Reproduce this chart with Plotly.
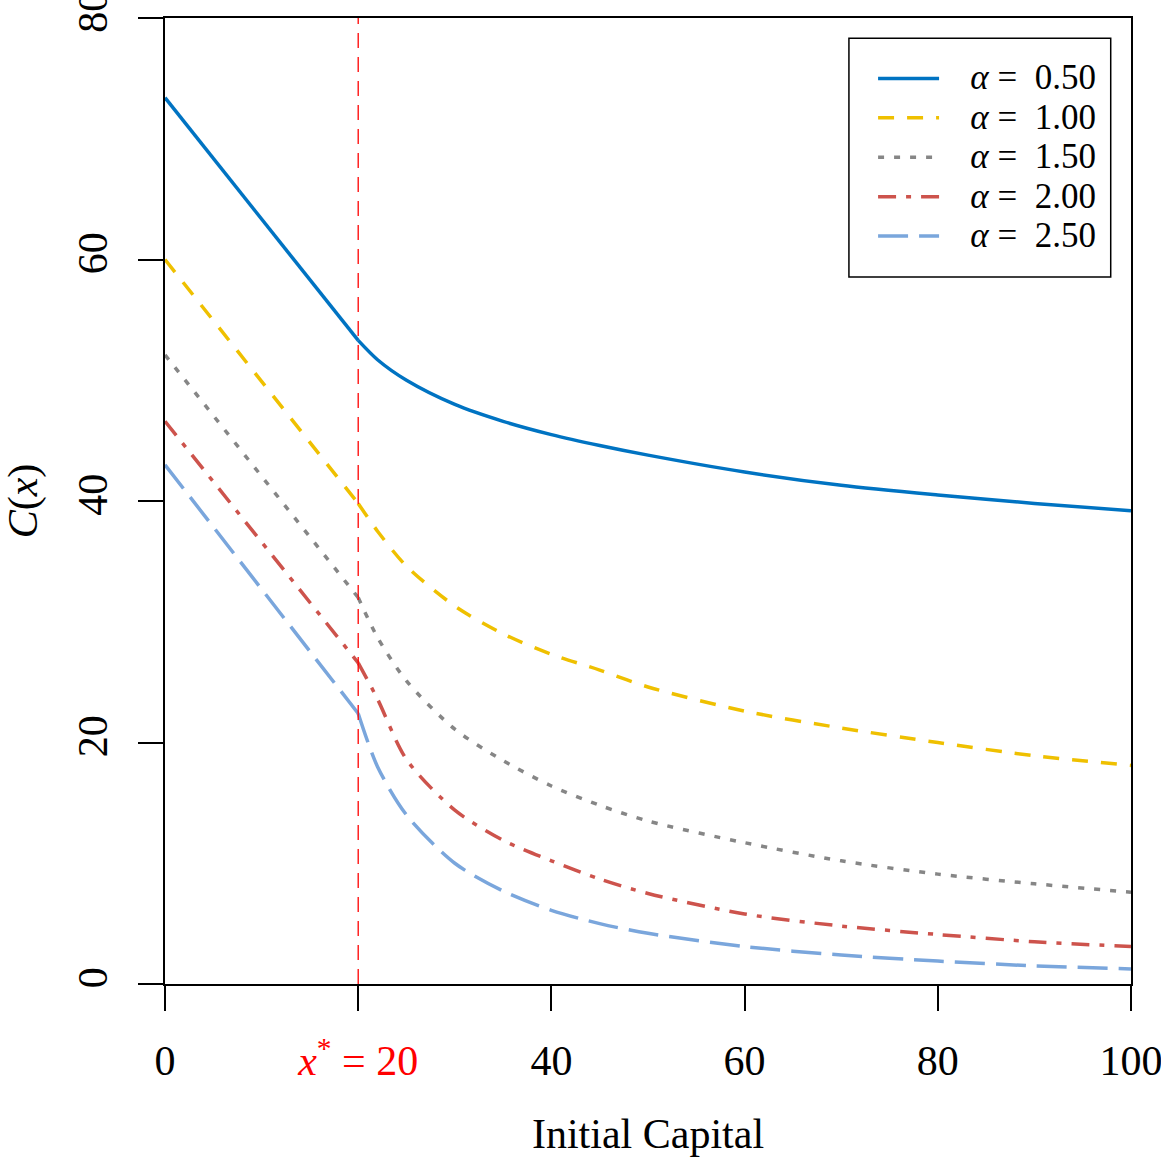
import plotly.graph_objects as go

# ---- data ----
capital = [0, 10, 20, 22, 25, 30, 35, 40, 45, 50, 60, 70, 80, 90, 100]
c_a050 = [73.4, 63.4, 53.3, 51.7, 50.0, 48.0, 46.6, 45.5, 44.6, 43.8, 42.4, 41.3, 40.5, 39.8, 39.2]
c_a100 = [60.0, 49.9, 39.8, 37.5, 34.6, 31.3, 29.0, 27.3, 26.0, 24.6, 22.6, 21.2, 20.0, 18.9, 18.1]
c_a150 = [52.1, 42.0, 32.0, 28.7, 25.1, 21.1, 18.5, 16.4, 14.8, 13.5, 11.7, 10.2, 9.1, 8.3, 7.6]
c_a200 = [46.6, 36.6, 26.6, 23.6, 18.6, 14.4, 11.9, 10.2, 8.7, 7.5, 5.8, 4.8, 4.1, 3.5, 3.1]
c_a250 = [43.0, 32.7, 22.4, 18.0, 14.0, 10.0, 7.7, 6.1, 5.0, 4.2, 3.1, 2.4, 1.9, 1.5, 1.25]
alphas = ["0.50", "1.00", "1.50", "2.00", "2.50"]
x_star = 20
x_ticks = [0, 20, 40, 60, 80, 100]
x_ticktext = ["0", "<span style='color:#FF0000'><i>x</i><sup>*</sup> = 20</span>", "40", "60", "80", "100"]
y_ticks = [0, 20, 40, 60, 80]

series = [c_a050, c_a100, c_a150, c_a200, c_a250]
colors = ["#0073C2", "#EFC000", "#868686", "#CD534C", "#7AA6DC"]
dashes = ["solid", "16px,13px", "6px,10px", "18px,10px,5px,10px", "30px,11px"]

FONT = "Liberation Serif"
fig = go.Figure()

k = capital.index(x_star)
for vals, a, col, dsh in zip(series, alphas, colors, dashes):
    name = f"<span style='font-size:35px'>\u2002 <i>α</i> =\u2002{a}</span>"
    # linear part up to x*
    fig.add_trace(go.Scatter(
        x=capital[:k + 1], y=vals[:k + 1], mode="lines", name=name,
        legendgroup=a, showlegend=True,
        line=dict(color=col, width=3.5, dash=dsh, shape="linear"),
    ))
    # curved part after x*
    fig.add_trace(go.Scatter(
        x=capital[k:], y=vals[k:], mode="lines", name=name,
        legendgroup=a, showlegend=False,
        line=dict(color=col, width=3.5, dash=dsh, shape="spline", smoothing=0.8),
    ))

fig.add_shape(type="line", xref="x", yref="paper", x0=x_star, x1=x_star, y0=0, y1=1,
              line=dict(color="#FF0000", width=1.3, dash="15px,9px"))

# legend frame
fig.add_shape(type="rect", xref="paper", yref="paper", x0=0.708, x1=0.979, y0=0.732, y1=0.979,
              line=dict(color="black", width=1.5), fillcolor="white", layer="above")

fig.update_layout(
    width=1161, height=1157,
    margin=dict(l=165, r=30, t=18, b=173),
    paper_bgcolor="white", plot_bgcolor="white",
    font=dict(family=FONT, color="black", size=42),
    showlegend=True,
    legend=dict(
        x=0.733, y=0.963, xanchor="left", yanchor="top",
        bgcolor="rgba(0,0,0,0)", borderwidth=0,
        font=dict(family=FONT, size=28, color="black"),
        itemwidth=61, tracegroupgap=0,
    ),
)

fig.update_xaxes(
    range=[0, 100], tickmode="array", tickvals=x_ticks, ticktext=x_ticktext,
    ticks="outside", ticklen=25, tickwidth=1.5, tickcolor="black",
    showline=True, linecolor="black", linewidth=1.5, mirror=True,
    showgrid=False, zeroline=False, automargin=False,
    ticklabeloverflow="allow",
    tickfont=dict(family=FONT, size=42), ticklabelstandoff=14,
    title=dict(text="Initial Capital", font=dict(family=FONT, size=42), standoff=40),
)
fig.update_yaxes(
    range=[0, 80], tickmode="array", tickvals=y_ticks, ticktext=[str(v) for v in y_ticks],
    ticks="outside", ticklen=25, tickwidth=1.5, tickcolor="black",
    showline=True, linecolor="black", linewidth=1.5, mirror=True,
    showgrid=False, zeroline=False, tickangle=-90, automargin=False,
    ticklabeloverflow="allow",
    tickfont=dict(family=FONT, size=42), ticklabelstandoff=14,
    title=dict(text="<i>C</i>(<i>x</i>)", font=dict(family=FONT, size=42), standoff=38),
)

fig.write_html("out.html")
